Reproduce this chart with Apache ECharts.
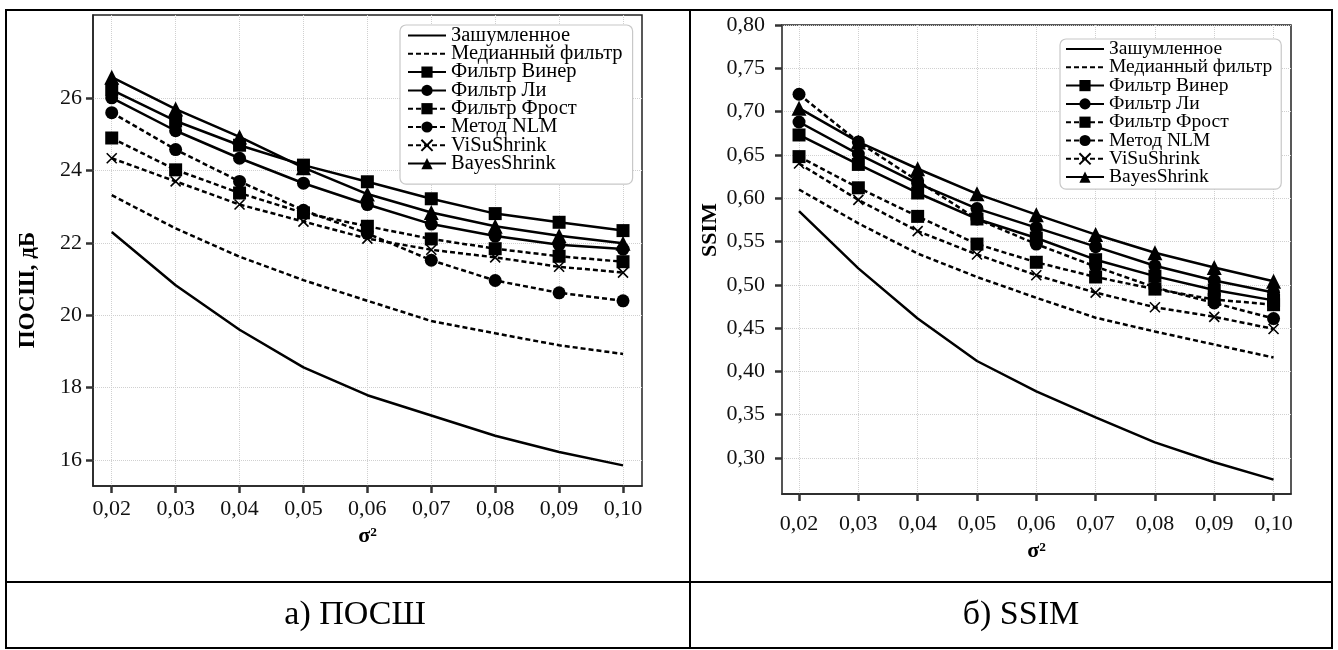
<!DOCTYPE html>
<html><head><meta charset="utf-8">
<script src="https://cdn.jsdelivr.net/npm/echarts@6/dist/echarts.min.js"></script>
<style>html,body{margin:0;padding:0;background:#fff}#c{width:1338px;height:650px}</style>
</head><body><div id="c"></div>
<script>
const sigma = [0.02, 0.03, 0.04, 0.05, 0.06, 0.07, 0.08, 0.09, 0.10];
const names = ['Зашумленное', 'Медианный фильтр', 'Фильтр Винер', 'Фильтр Ли', 'Фильтр Фрост', 'Метод NLM', 'ViSuShrink', 'BayesShrink'];

const psnrNoisy  = [22.30, 20.83, 19.60, 18.56, 17.79, 17.23, 16.67, 16.22, 15.85];
const psnrMedian = [23.32, 22.40, 21.62, 20.97, 20.40, 19.84, 19.50, 19.17, 18.93];
const psnrWiener = [26.23, 25.37, 24.70, 24.15, 23.69, 23.22, 22.81, 22.57, 22.34];
const psnrLee    = [26.01, 25.10, 24.34, 23.65, 23.06, 22.52, 22.19, 21.95, 21.83];
const psnrFrost  = [24.90, 24.02, 23.38, 22.83, 22.46, 22.11, 21.84, 21.63, 21.48];
const psnrNLM    = [25.60, 24.58, 23.70, 22.90, 22.26, 21.52, 20.96, 20.62, 20.40];
const psnrVisu   = [24.34, 23.70, 23.06, 22.59, 22.12, 21.81, 21.60, 21.34, 21.18];
const psnrBayes  = [26.58, 25.70, 24.93, 24.08, 23.35, 22.84, 22.46, 22.20, 21.99];

const ssimNoisy  = [0.585, 0.519, 0.461, 0.412, 0.377, 0.347, 0.318, 0.295, 0.275];
const ssimMedian = [0.610, 0.571, 0.536, 0.509, 0.485, 0.462, 0.446, 0.431, 0.416];
const ssimWiener = [0.673, 0.639, 0.606, 0.576, 0.554, 0.529, 0.510, 0.494, 0.482];
const ssimLee    = [0.688, 0.651, 0.617, 0.588, 0.566, 0.544, 0.522, 0.505, 0.491];
const ssimFrost  = [0.648, 0.612, 0.579, 0.547, 0.526, 0.509, 0.495, 0.483, 0.477];
const ssimNLM    = [0.720, 0.665, 0.620, 0.576, 0.547, 0.521, 0.497, 0.479, 0.461];
const ssimVisu   = [0.640, 0.598, 0.562, 0.535, 0.511, 0.491, 0.474, 0.463, 0.449];
const ssimBayes  = [0.704, 0.665, 0.634, 0.605, 0.581, 0.558, 0.537, 0.520, 0.504];

const psnrTicks = [16, 18, 20, 22, 24, 26];
const ssimTicks = [0.30, 0.35, 0.40, 0.45, 0.50, 0.55, 0.60, 0.65, 0.70, 0.75, 0.80];
const sigmaTicks = sigma;

const psnrData = [psnrNoisy, psnrMedian, psnrWiener, psnrLee, psnrFrost, psnrNLM, psnrVisu, psnrBayes];
const ssimData = [ssimNoisy, ssimMedian, ssimWiener, ssimLee, ssimFrost, ssimNLM, ssimVisu, ssimBayes];

const FONT = '"Liberation Serif", "Times New Roman", serif';
const DASH = [5, 3];
const XPATH = 'path://M0,0L10,10M10,0L0,10';
const styles = [
  {dash: 'solid', symbol: 'none', size: 0},
  {dash: DASH, symbol: 'none', size: 0},
  {dash: 'solid', symbol: 'rect', size: 13},
  {dash: 'solid', symbol: 'circle', size: 13},
  {dash: DASH, symbol: 'rect', size: 13},
  {dash: DASH, symbol: 'circle', size: 13},
  {dash: DASH, symbol: XPATH, size: 10},
  {dash: 'solid', symbol: 'triangle', size: 15}
];

function fmt2(v) { return (Math.round(v * 100) / 100).toFixed(2).replace('.', ','); }

function makeSeries(data, gi) {
  return names.map((n, i) => {
    const st = styles[i];
    const isX = st.symbol === XPATH;
    return {
      name: n, type: 'line', xAxisIndex: gi, yAxisIndex: gi,
      data: sigma.map((s, k) => [s, data[i][k]]),
      symbol: st.symbol, symbolSize: st.size, showSymbol: st.symbol !== 'none',
      lineStyle: {color: '#000', width: 2.5, type: st.dash},
      itemStyle: isX ? {color: '#000', borderColor: '#000', borderWidth: 1.6} : {color: '#000', borderWidth: 0},
      emphasis: {disabled: true},
      z: 2 + i
    };
  });
}

function xAxis(gi, min, max, margin) {
  return {
    type: 'value', gridIndex: gi, min: min, max: max,
    name: 'σ²', nameLocation: 'middle', nameGap: 39,
    nameTextStyle: {fontFamily: FONT, fontWeight: 'bold', fontSize: 22, color: '#000'},
    axisLine: {show: true, lineStyle: {color: '#222', width: 1.5}},
    axisTick: {show: true, inside: false, length: 7, lineStyle: {color: '#333', width: 2.5}, customValues: sigmaTicks},
    axisLabel: {customValues: sigmaTicks, formatter: fmt2, fontFamily: FONT, fontSize: 22, color: '#111', margin: margin},
    splitLine: {show: true, customValues: sigmaTicks, lineStyle: {color: '#d0d0d0', type: 'dotted', width: 1}}
  };
}
function yAxis(gi, min, max, ticks, fmt, margin) {
  return {
    type: 'value', gridIndex: gi, min: min, max: max,
    axisLine: {show: true, lineStyle: {color: gi === 0 ? '#222' : '#555', width: gi === 0 ? 1.5 : 2}},
    axisTick: {show: true, inside: false, length: 7, lineStyle: {color: '#333', width: 2.5}, customValues: ticks},
    axisLabel: {customValues: ticks, formatter: fmt, fontFamily: FONT, fontSize: 22, color: '#111', margin: margin},
    splitLine: {show: true, customValues: ticks, lineStyle: {color: '#d0d0d0', type: 'dotted', width: 1}}
  };
}
function legendData() {
  return names.map((n, i) => styles[i].symbol === 'none'
    ? {name: n, itemStyle: {color: 'rgba(0,0,0,0)', borderWidth: 0, opacity: 0}}
    : {name: n});
}
function legend(left, top, fontSize, gap, pad) {
  return {
    data: legendData(), orient: 'vertical', left: left, top: top,
    selectedMode: false, backgroundColor: '#fff',
    borderColor: '#c8c8c8', borderWidth: 1.2, borderRadius: 6,
    padding: pad, itemWidth: 38, itemHeight: 14, itemGap: gap,
    textStyle: {fontFamily: FONT, fontSize: fontSize, color: '#000'},
    z: 10
  };
}

const option = {
  animation: false,
  backgroundColor: '#fff',
  grid: [
    {left: 93, top: 15, width: 549, height: 471, show: true, borderColor: '#222', borderWidth: 1.5, backgroundColor: 'transparent'},
    {left: 782, top: 25, width: 509, height: 469, show: true, borderColor: '#222', borderWidth: 1.5, backgroundColor: 'transparent'}
  ],
  xAxis: [xAxis(0, 0.01707, 0.10297, 12), xAxis(1, 0.01713, 0.10294, 19)],
  yAxis: [
    yAxis(0, 15.28, 28.3, psnrTicks, v => String(Math.round(v)), 11),
    yAxis(1, 0.2584, 0.80, ssimTicks, fmt2, 17)
  ],
  legend: [legend(400, 25, 20.5, -2.7, [0, 10, 10, 7]), legend(1060, 39, 19.5, -1.7, [0, 9, 2, 5])],
  series: makeSeries(psnrData, 0).concat(makeSeries(ssimData, 1)),
  graphic: [
    {type: 'rect', shape: {x: 6, y: 10, width: 1326, height: 638}, style: {fill: 'none', stroke: '#000', lineWidth: 2}, silent: true},
    {type: 'line', shape: {x1: 690, y1: 10, x2: 690, y2: 648}, style: {stroke: '#000', lineWidth: 2}, silent: true},
    {type: 'line', shape: {x1: 6, y1: 582, x2: 1332, y2: 582}, style: {stroke: '#000', lineWidth: 2}, silent: true},
    {type: 'text', x: 28, y: 290, rotation: Math.PI / 2, style: {text: 'ПОСШ, дБ', fontFamily: FONT, fontWeight: 'bold', fontSize: 23, fill: '#000', align: 'center', verticalAlign: 'middle'}},
    {type: 'text', x: 710, y: 230, rotation: Math.PI / 2, style: {text: 'SSIM', fontFamily: FONT, fontWeight: 'bold', fontSize: 22, fill: '#000', align: 'center', verticalAlign: 'middle'}},
    {type: 'text', x: 355, y: 615, style: {text: 'а) ПОСШ', fontFamily: FONT, fontSize: 34, fill: '#000', align: 'center', verticalAlign: 'middle'}},
    {type: 'text', x: 1021, y: 615, style: {text: 'б) SSIM', fontFamily: FONT, fontSize: 34, fill: '#000', align: 'center', verticalAlign: 'middle'}}
  ]
};

const chart = echarts.init(document.getElementById('c'), null, {renderer: 'canvas'});
chart.setOption(option);
</script>
</body></html>
